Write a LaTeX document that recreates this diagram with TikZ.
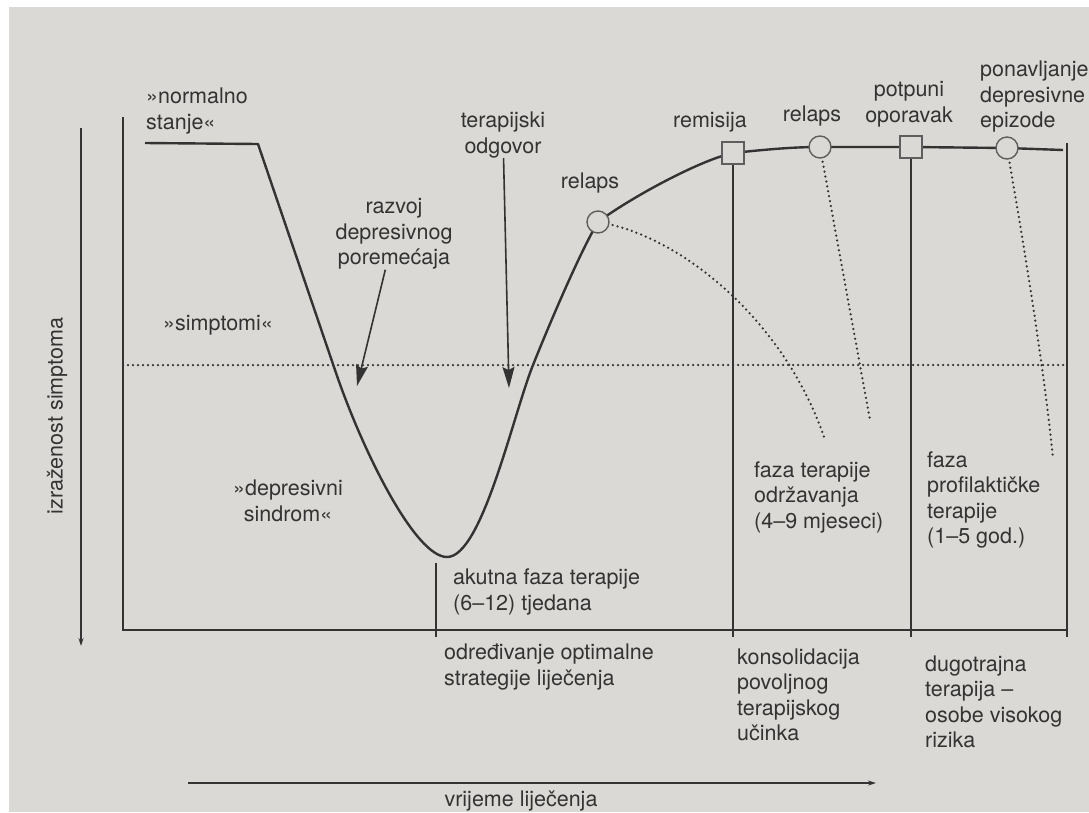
\documentclass[tikz,border=0pt]{standalone}
\usepackage{fontspec}
\setmainfont{TeX Gyre Heros}
\usetikzlibrary{arrows.meta}
\definecolor{paper}{HTML}{DAD9D5}
\definecolor{ink}{HTML}{333333}
\definecolor{rim}{HTML}{5E5E5E}

\begin{document}
\begin{tikzpicture}[
    x=1pt, y=-1pt,
    txt/.style={font=\fontsize{21.5}{25.5}\selectfont, text=ink, inner sep=0pt, align=center},
    txtl/.style={txt, align=left, anchor=west},
    curve/.style={ink, line width=2.4pt, line join=round},
    frame/.style={ink, line width=1.4pt},
    dots/.style={ink, line width=2.5pt, line cap=round, dash pattern=on 0pt off 5pt},
    arr/.style={ink, line width=1.6pt, -{Stealth[length=21pt,width=12pt,inset=3pt]}},
    axis/.style={ink, line width=1.2pt, -{Stealth[length=8pt,width=5pt]}},
    ring/.style={circle, draw=rim, line width=1.4pt, fill=paper, minimum size=22pt, inner sep=0pt},
    tile/.style={rectangle, draw=rim, line width=1.4pt, fill=paper, minimum size=22pt, inner sep=0pt}
]
    % Page background
    \fill[white] (0,0) rectangle (1089,812);
    \fill[paper] (9,7) rectangle (1089,812);
    \useasboundingbox (0,0) rectangle (1089,812);

    % Frame and axes
    \coordinate (tl) at (123,117);
    \coordinate (bl) at (123,630);
    \coordinate (br) at (1067,630);
    \coordinate (tr) at (1067,143);
    \coordinate (brB) at (1067,637);
    \draw[frame] (tl) -- (bl) -- (br);
    \draw[frame] (tr) -- (brB);
    \coordinate (yTop) at (81,128);
    \coordinate (yEnd) at (81,646);
    \draw[axis] (yTop) -- (yEnd);
    \coordinate (tStart) at (188,783);
    \coordinate (tEnd) at (876,783);
    \draw[axis] (tStart) -- (tEnd);

    % Symptom threshold
    \coordinate (thrL) at (123,365);
    \coordinate (thrR) at (1067,365);
    \draw[dots] (thrL) -- (thrR);

    % Marker positions
    \coordinate (m1) at (598,222);
    \coordinate (m2) at (733,153);
    \coordinate (m3) at (820,147);
    \coordinate (m4) at (911,147);
    \coordinate (m5) at (1007,148);

    % Phase boundaries
    \coordinate (acuteT) at (436,563);
    \coordinate (acuteB) at (436,637);
    \coordinate (remB) at (733,637);
    \coordinate (recB) at (911,637);
    \draw[frame] (acuteT) -- (acuteB);
    \draw[frame] (m2) -- (remB);
    \draw[frame] (m4) -- (recB);

    % Relapse / recurrence courses
    \coordinate (d1) at (825,440);
    \coordinate (d2) at (870,420);
    \coordinate (d3) at (1053,458);
    \draw[dots] (m1) .. controls (680,235) and (785,320) .. (d1);
    \draw[dots] (m3) -- (d2);
    \draw[dots] (m5) .. controls (1030,280) and (1045,380) .. (d3);

    % Course of the episode
    \coordinate (n0) at (145,143);
    \coordinate (n1) at (258,144);
    \coordinate (n2) at (335,370);
    \coordinate (bot) at (447,557);
    \coordinate (n3) at (533,365);
    \coordinate (n4) at (1063,150);
    \draw[curve] (n0) -- (n1) -- (n2)
        .. controls (362,450) and (415,557) .. (bot)
        .. controls (482,557) and (513,415) .. (n3)
        .. controls (549,325) and (580,252) .. (m1)
        .. controls (630,198) and (700,160) .. (m2)
        .. controls (770,149) and (795,147) .. (m3)
        -- (m4) -- (m5) -- (n4);

    % Markers
    \node[ring] (relA) at (m1) {};
    \node[tile] (remis) at (m2) {};
    \node[ring] (relB) at (m3) {};
    \node[tile] (recov) at (m4) {};
    \node[ring] (recur) at (m5) {};

    % Labels on the curve
    \node[txtl] (normal) at (146,111) {»normalno\\stanje«};
    \node[txt] (resp) at (503,135) {terapijski\\odgovor};
    \node[txt] (dev) at (394,234) {razvoj\\depresivnog\\poremećaja};
    \node[txt] (sympt) at (218,325) {»simptomi«};
    \node[txt] (synd) at (288,501) {»depresivni\\sindrom«};
    \node[txt] (relAl) at (590,183) {relaps};
    \node[txt] (remisl) at (710,122) {remisija};
    \node[txt] (relBl) at (812,116) {relaps};
    \node[txt] (recovl) at (909,104) {potpuni\\oporavak};
    \node[txtl] (recurl) at (980,97) {ponavljanje\\depresivne\\epizode};

    % Arrows into the trough
    \coordinate (devTip) at (357,386);
    \coordinate (respTip) at (509,388);
    \draw[arr] (dev) -- (devTip);
    \draw[arr] (resp) -- (respTip);

    % Phase labels
    \node[txtl] (acute) at (453,592) {akutna faza terapije\\(6–12) tjedana};
    \node[txtl] (maint) at (754,497) {faza terapije\\održavanja\\(4–9 mjeseci)};
    \node[txtl] (proph) at (927,500) {faza\\profilaktičke\\terapije\\(1–5 god.)};

    % Goals below the axis
    \node[txtl] (strat) at (444,667) {određivanje optimalne\\strategije liječenja};
    \node[txtl] (consol) at (737,695) {konsolidacija\\povoljnog\\terapijskog\\učinka};
    \node[txtl] (longt) at (925,702) {dugotrajna\\terapija –\\osobe visokog\\rizika};

    % Axis titles
    \node[txt] (time) at (521,801) {vrijeme liječenja};
    \node[txt, rotate=90] (sev) at (57,416) {izraženost simptoma};
\end{tikzpicture}
\end{document}
